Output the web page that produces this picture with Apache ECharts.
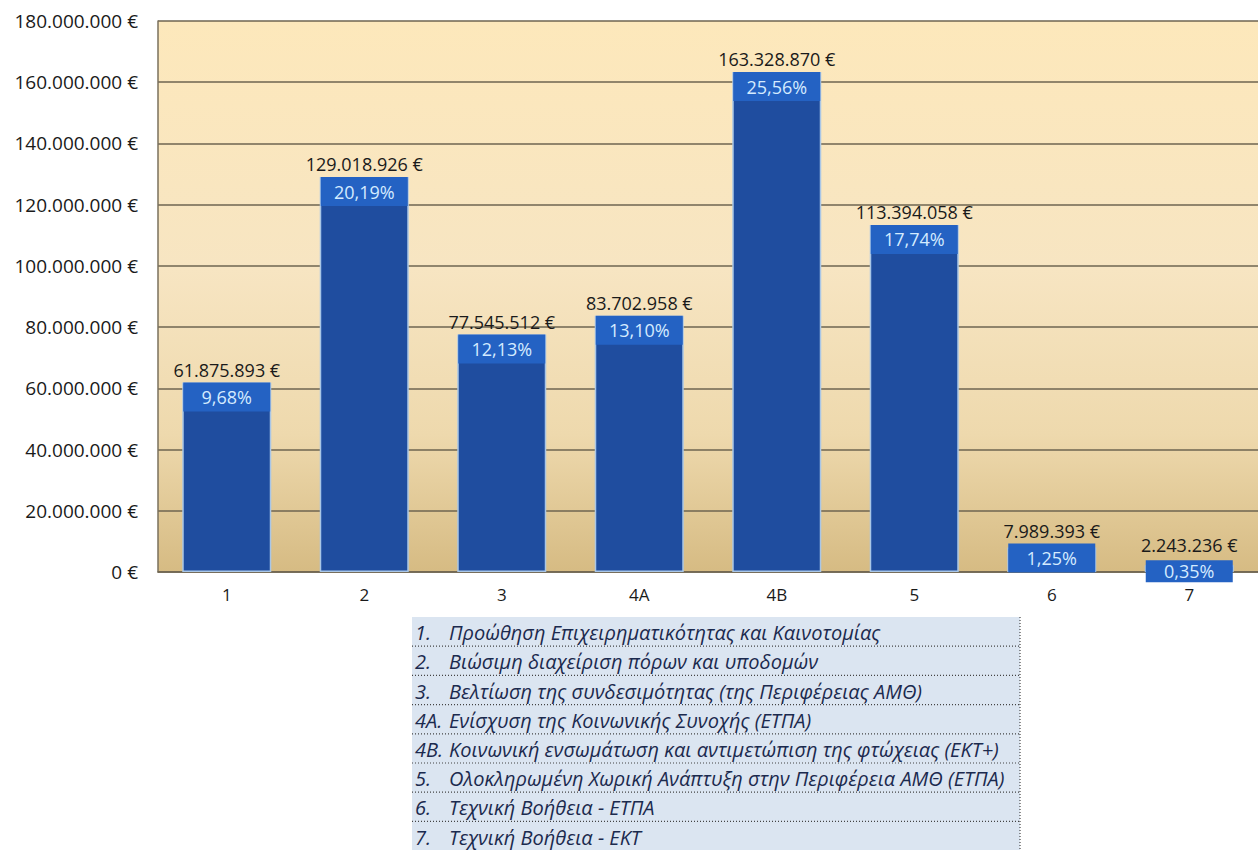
<!DOCTYPE html>
<html>
<head>
<meta charset="utf-8">
<script src="https://cdn.jsdelivr.net/npm/echarts@6/dist/echarts.min.js"></script>
<style>
html,body{margin:0;padding:0;background:#fff;}
#chart{width:1258px;height:850px;}
</style>
</head>
<body>
<div id="chart"></div>
<script>
var categories = ['1', '2', '3', '4Α', '4Β', '5', '6', '7'];
var values = [61875893, 129018926, 77545512, 83702958, 163328870, 113394058, 7989393, 2243236];
var percents = ['9,68%', '20,19%', '12,13%', '13,10%', '25,56%', '17,74%', '1,25%', '0,35%'];
var yTicks = { min: 0, max: 180000000, interval: 20000000 };
var legendNums = ['1.', '2.', '3.', '4Α.', '4Β.', '5.', '6.', '7.'];
var legendTexts = [
  'Προώθηση Επιχειρηματικότητας και Καινοτομίας',
  'Βιώσιμη διαχείριση πόρων και υποδομών',
  'Βελτίωση της συνδεσιμότητας (της Περιφέρειας ΑΜΘ)',
  'Ενίσχυση της Κοινωνικής Συνοχής (ΕΤΠΑ)',
  'Κοινωνική ενσωμάτωση και αντιμετώπιση της φτώχειας (ΕΚΤ+)',
  'Ολοκληρωμένη Χωρική Ανάπτυξη στην Περιφέρεια ΑΜΘ (ΕΤΠΑ)',
  'Τεχνική Βοήθεια - ΕΤΠΑ',
  'Τεχνική Βοήθεια - ΕΚΤ'
];

function fmtEuro(v) {
  var s = String(Math.round(v));
  return s.replace(/\B(?=(\d{3})+(?!\d))/g, '.') + ' €';
}

var FONT = 'Open Sans';
var chart = echarts.init(document.getElementById('chart'), null, { renderer: 'svg' });

// legend table graphics
var tableX = 412, tableY = 617, rowH = 29.2, tableW = 608;
var graphics = [];
graphics.push({
  type: 'rect', shape: { x: tableX, y: tableY, width: tableW, height: rowH * legendTexts.length },
  style: { fill: '#dbe5f1' }, z: 1
});
legendTexts.forEach(function (t, i) {
  var y = tableY + i * rowH;
  graphics.push({
    type: 'text', x: tableX + 3, y: y + rowH / 2 + 1,
    style: { text: legendNums[i], font: 'italic 20px "' + FONT + '"', fill: '#1b2a4e', verticalAlign: 'middle' }, z: 3
  });
  graphics.push({
    type: 'text', x: tableX + 37, y: y + rowH / 2 + 1,
    style: { text: t, font: 'italic 20px "' + FONT + '"', fill: '#1b2a4e', verticalAlign: 'middle' }, z: 3
  });
  if (i < legendTexts.length - 1) {
    graphics.push({
      type: 'line', shape: { x1: tableX, y1: y + rowH, x2: tableX + tableW, y2: y + rowH },
      style: { stroke: '#444', lineWidth: 1.2, lineDash: [1, 2] }, z: 2
    });
  }
});
graphics.push({
  type: 'line', shape: { x1: tableX + tableW, y1: tableY, x2: tableX + tableW, y2: tableY + rowH * legendTexts.length },
  style: { stroke: '#444', lineWidth: 1.2, lineDash: [1, 2] }, z: 2
});

// label tweaks for the two tiny bars (like the source, boxes pushed up to fit)
function pctLabelFor(i) {
  if (i === 6) return { offset: [0, -4] };
  if (i === 7) return { offset: [0, -5], height: 22, lineHeight: 22 };
  return {};
}
function valLabelFor(i) {
  if (i === 6) return { distance: 8 };
  if (i === 7) return { distance: 11 };
  return {};
}

var option = {
  animation: false,
  grid: {
    left: 158, top: 21, width: 1112, height: 551,
    show: true,
    borderWidth: 0,
    backgroundColor: {
      type: 'linear', x: 0, y: 0, x2: 0, y2: 1,
      colorStops: [
        { offset: 0, color: '#fde8bb' },
        { offset: 0.45, color: '#f7e5c2' },
        { offset: 0.75, color: '#eed9ad' },
        { offset: 1, color: '#d6bb83' }
      ]
    }
  },
  xAxis: {
    type: 'category',
    data: categories,
    axisLine: { show: true, lineStyle: { color: '#6e6450', width: 1.5 } },
    axisTick: { show: false },
    axisLabel: { color: '#1a1a1a', fontSize: 17, fontFamily: FONT, margin: 14 },
    splitLine: { show: false }
  },
  yAxis: {
    type: 'value',
    min: yTicks.min, max: yTicks.max, interval: yTicks.interval,
    axisLine: { show: true, lineStyle: { color: '#7a705c', width: 1.5 } },
    axisTick: { show: false },
    splitLine: { show: true, lineStyle: { color: '#6e6450', width: 1.5 } },
    axisLabel: {
      color: '#1a1a1a', fontSize: 19, fontFamily: FONT, margin: 20,
      formatter: function (v) { return fmtEuro(v); }
    }
  },
  graphic: graphics,
  series: [
    {
      type: 'bar',
      name: 'values',
      data: values.map(function (v, i) { return { value: v, label: valLabelFor(i) }; }),
      barWidth: 89,
      barGap: '-100%',
      itemStyle: { color: 'rgba(0,0,0,0)' },
      label: {
        show: true, position: 'top', distance: 4,
        color: '#1a1a1a', fontSize: 18, fontFamily: FONT,
        formatter: function (p) { return fmtEuro(p.value); }
      },
      z: 1, silent: true
    },
    {
      type: 'bar',
      name: 'bars',
      data: values.map(function (v, i) { return { value: v, label: pctLabelFor(i) }; }),
      barWidth: 89,
      barGap: '-100%',
      itemStyle: { color: '#1f4d9f', borderColor: '#a9c6e6', borderWidth: 1.5 },
      label: {
        show: true, position: 'insideTop', distance: 0,
        formatter: function (p) { return percents[p.dataIndex]; },
        color: '#d4ebff', fontSize: 18, fontFamily: FONT,
        backgroundColor: '#2462c3',
        width: 87, height: 29, lineHeight: 29, align: 'center', padding: 0
      },
      z: 2
    }
  ]
};
chart.setOption(option);
</script>
</body>
</html>
